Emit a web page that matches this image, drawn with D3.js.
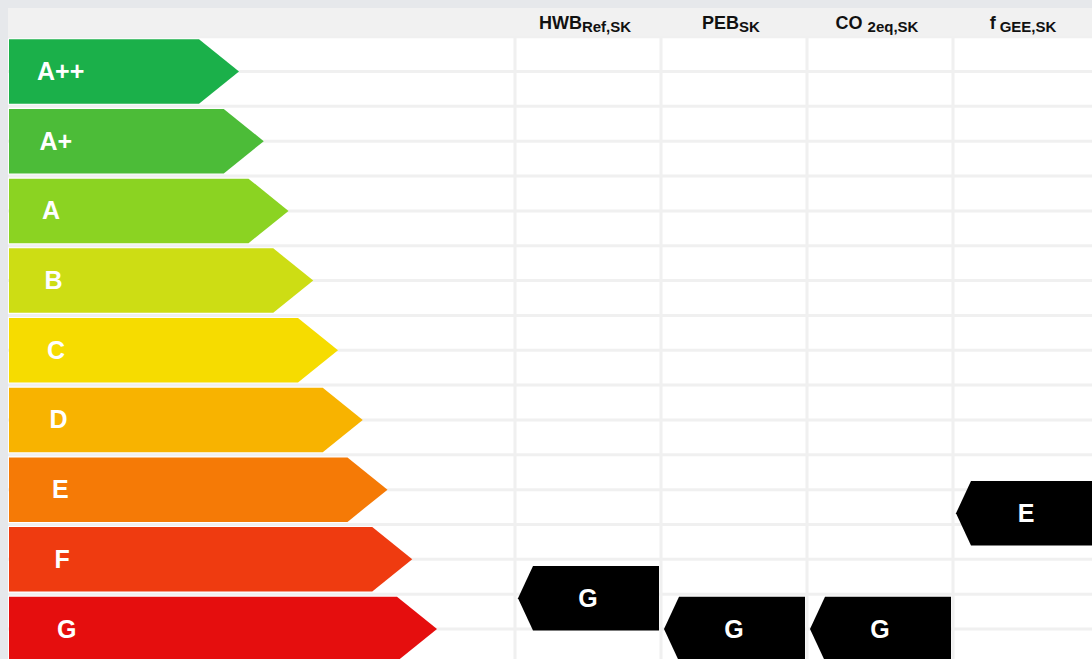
<!DOCTYPE html>
<html>
  <head>
    <meta charset="utf-8">
    <script src="https://d3js.org/d3.v7.min.js"></script>
    <title>Energieausweis Skala</title>
    <style>
      body {
        margin: 0px;
        background-color: #e6e8eb;
      }
      svg text {
        font-family: 'Liberation Sans', Arial, sans-serif;
        font-weight: bold;
      }
      .class-label, .marker-label {
        fill: #ffffff;
        font-size: 25px;
      }
      .col-label {
        fill: #111111;
        font-size: 18px;
      }
    </style>
  </head>
  <body>
    <div id="chart"></div>
    <script>

      // energy classes, top to bottom
      const classes = ['A++', 'A+', 'A', 'B', 'C', 'D', 'E', 'F', 'G'];
      const classColors = ['#1bb04a', '#4cbc38', '#8bd322', '#cddd14', '#f6dc00', '#f8b300', '#f57a06', '#ef3b10', '#e50e0e'];

      // indicator columns (name + subscript)
      const colMain = ['HWB', 'PEB', 'CO', 'f'];
      const colSub = ['Ref,SK', 'SK', '2eq,SK', 'GEE,SK'];

      // rating of each indicator and its position on the scale (0 = A++, 8 = G)
      const markerClass = ['G', 'G', 'G', 'E'];
      const markerPos = [7.56, 8, 8, 6.34];

      const width = 1092;
      const height = 659;

      const svg = d3.select('#chart').append('svg')
        .attr('width', width)
        .attr('height', height)
        .style('display', 'block');

      const yScale = d3.scaleLinear()
        .domain([0, classes.length - 1])
        .range([71.5, 629]);
      const bandH = 64.5;

      // arrow tip of each class bar
      const tipScale = d3.scaleLinear()
        .domain([0, classes.length - 1])
        .range([239, 437]);

      const colScale = d3.scaleBand()
        .domain(colMain)
        .range([515, 1099]);

      // background: page, header and white grid area
      svg.append('rect')
        .attr('x', 8).attr('y', 8)
        .attr('width', width - 8).attr('height', height - 8)
        .attr('fill', '#f1f1f1');
      svg.append('rect')
        .attr('x', 8).attr('y', yScale(-0.5))
        .attr('width', width - 8).attr('height', height - yScale(-0.5))
        .attr('fill', '#ffffff');

      // grid lines every half class
      const gridG = svg.append('g');
      gridG.selectAll('line.h')
        .data(d3.range(-0.5, classes.length + 0.5, 0.5))
        .enter().append('line')
          .attr('class', 'h')
          .attr('x1', 8).attr('x2', width)
          .attr('y1', d => yScale(d)).attr('y2', d => yScale(d))
          .attr('stroke', '#f0f0f0')
          .attr('stroke-width', 3);
      gridG.selectAll('line.v')
        .data(colMain.concat(['end']))
        .enter().append('line')
          .attr('class', 'v')
          .attr('x1', (d, i) => colScale.range()[0] + i * colScale.bandwidth())
          .attr('x2', (d, i) => colScale.range()[0] + i * colScale.bandwidth())
          .attr('y1', yScale(-0.5)).attr('y2', height)
          .attr('stroke', '#f0f0f0')
          .attr('stroke-width', 3);

      // class arrows
      const classG = svg.append('g');
      classG.selectAll('path')
        .data(classes)
        .enter().append('path')
          .attr('d', (d, i) => {
            const cy = yScale(i), tip = tipScale(i);
            const t = cy - bandH / 2, b = cy + bandH / 2;
            return `M9,${t}L${tip - 40},${t}L${tip},${cy}L${tip - 40},${b}L9,${b}Z`;
          })
          .attr('fill', (d, i) => classColors[i]);
      classG.selectAll('text')
        .data(classes)
        .enter().append('text')
          .attr('class', 'class-label')
          .attr('x', (d, i) => 37 + i * 2.5)
          .attr('y', (d, i) => yScale(i) + 8.5)
          .text(d => d);

      // column headers
      const gaps = [0, 0, 5, 4];
      const headG = svg.append('g');
      const head = headG.selectAll('text')
        .data(colMain)
        .enter().append('text')
          .attr('class', 'col-label')
          .attr('x', d => colScale(d) + colScale.bandwidth() / 2 - 3)
          .attr('y', 28.5)
          .attr('text-anchor', 'middle');
      head.append('tspan').text(d => d);
      head.append('tspan')
        .attr('dx', (d, i) => gaps[i])
        .attr('dy', 3.5)
        .style('font-size', '15px')
        .text((d, i) => colSub[i]);

      // rating markers
      const markG = svg.append('g');
      markG.selectAll('path')
        .data(colMain)
        .enter().append('path')
          .attr('d', (d, i) => {
            const cy = yScale(markerPos[i]);
            const x0 = colScale(d) + 3, x1 = colScale(d) + colScale.bandwidth() - 2;
            const t = cy - bandH / 2, b = cy + bandH / 2;
            return `M${x0},${cy}L${x0 + 15},${t}L${x1},${t}L${x1},${b}L${x0 + 15},${b}Z`;
          })
          .attr('fill', '#000000');
      markG.selectAll('text')
        .data(colMain)
        .enter().append('text')
          .attr('class', 'marker-label')
          .attr('x', d => colScale(d) + colScale.bandwidth() / 2)
          .attr('y', (d, i) => yScale(markerPos[i]) + 8.5)
          .attr('text-anchor', 'middle')
          .text((d, i) => markerClass[i]);

    </script>
  </body>
</html>
